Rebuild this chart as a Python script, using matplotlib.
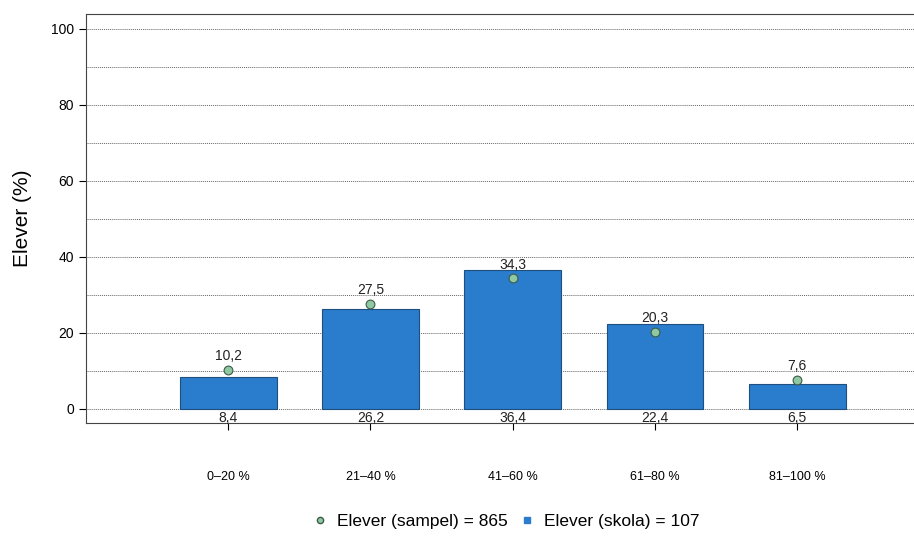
import numpy as np
import matplotlib.pyplot as plt
from matplotlib.lines import Line2D

plt.rcParams['font.family'] = ['Liberation Sans', 'DejaVu Sans']

categories = ['0–20 %', '21–40 %', '41–60 %', '61–80 %', '81–100 %']
skola = [8.4, 26.2, 36.4, 22.4, 6.5]
sampel = [10.2, 27.5, 34.3, 20.3, 7.6]
skola_label = 'Elever (skola) = 107'
sampel_label = 'Elever (sampel) = 865'

bar_color = '#2a7ccc'
dot_color = '#8ec9a2'

fig = plt.figure(figsize=(9.14, 5.4), dpi=100)
ax = fig.add_axes([0.094, 0.217, 0.906, 0.757])

x = np.arange(1, len(categories) + 1)
ax.bar(x, skola, width=0.68, color=bar_color, edgecolor='#1d4f80', linewidth=0.8, zorder=2)
ax.scatter(x, sampel, s=40, color=dot_color, edgecolor='#3d5a48', linewidth=0.8, zorder=3)

for xi, s, k in zip(x, sampel, skola):
    ax.annotate(f'{s:.1f}'.replace('.', ','), (xi, s), xytext=(0, 5), textcoords='offset points',
                ha='center', va='bottom', fontsize=10, color='#222222')
    ax.annotate(f'{k:.1f}'.replace('.', ','), (xi, 0), xytext=(0, -1.5), textcoords='offset points',
                ha='center', va='top', fontsize=10, color='#222222')

ax.set_xlim(0, 5.82)
ax.set_ylim(-3.7, 103.9)
ax.set_yticks([0, 20, 40, 60, 80, 100])
ax.set_yticks(np.arange(0, 101, 10), minor=True)
ax.grid(axis='y', which='both', linestyle=(0, (1, 1)), color='#666666', linewidth=0.7, zorder=0)
ax.tick_params(axis='y', which='minor', length=0)
ax.tick_params(axis='y', which='major', length=5, labelsize=10)
ax.set_xticks(x)
ax.set_xticklabels(categories, fontsize=9)
ax.tick_params(axis='x', length=5, pad=30)
ax.set_ylabel('Elever (%)', fontsize=15, labelpad=14)
ax.spines['right'].set_visible(False)
for sp in ['left', 'top', 'bottom']:
    ax.spines[sp].set_color('#444444')

handles = [
    Line2D([], [], marker='o', linestyle='none', markersize=4.5, markerfacecolor=dot_color,
           markeredgecolor='#3d5a48', label=sampel_label),
    Line2D([], [], marker='s', linestyle='none', markersize=4.5, markerfacecolor=bar_color,
           markeredgecolor=bar_color, label=skola_label),
]
fig.legend(handles=handles, loc='center', bbox_to_anchor=(0.553, 0.035), ncol=2, frameon=False,
           fontsize=12.5, handletextpad=0.5, columnspacing=0.6, handlelength=1)

fig.savefig('out.png', dpi=100)
